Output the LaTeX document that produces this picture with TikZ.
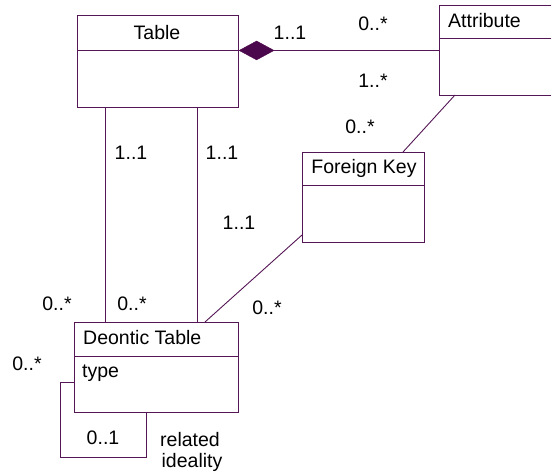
\documentclass[tikz,border=0pt]{standalone}
\usepackage{fontspec}
\setmainfont{Liberation Sans}
\usetikzlibrary{shapes.geometric}
\definecolor{umlline}{RGB}{84,22,84}
\definecolor{umlfill}{RGB}{76,8,76}
\tikzset{
  umlbox/.style={draw=umlline, line width=0.9pt, rectangle, inner sep=0pt, anchor=north west},
  conn/.style={draw=umlline, line width=0.9pt},
  lbl/.style={font=\fontsize{19.5}{22}\selectfont, inner sep=0pt, text=black},
  mult/.style={lbl},
}
\begin{document}
\begin{tikzpicture}[x=1pt,y=-1pt]
\useasboundingbox (0,0) rectangle (551,476);
% boxes
\node[umlbox, minimum width=161pt, minimum height=92pt] (table) at (77,15) {};
\node[umlbox, minimum width=114pt, minimum height=90pt] (attr) at (439,5) {};
\node[umlbox, minimum width=122pt, minimum height=90pt] (fk) at (302,152) {};
\node[umlbox, minimum width=164pt, minimum height=90pt] (deon) at (74,322) {};
% compartment dividers
\draw[conn] (table.west |- 0,50) -- (table.east |- 0,50);
\draw[conn] (attr.west |- 0,38) -- (attr.east |- 0,38);
\draw[conn] (fk.west |- 0,185) -- (fk.east |- 0,185);
\draw[conn] (deon.west |- 0,356) -- (deon.east |- 0,356);
% titles
\node[lbl] (tTable) at (157,33) {Table};
\node[lbl, anchor=west] (tAttr) at (448,21) {Attribute};
\node[lbl] (tFk) at (364,168) {Foreign Key};
\node[lbl, anchor=west] (tDeon) at (83,338) {Deontic Table};
\node[lbl, anchor=west] (tType) at (82,373) {type};
% composition diamond
\node[diamond, fill=umlfill, draw=umlfill, inner sep=0pt, minimum width=35pt, minimum height=19pt, anchor=west] (dia) at (table.east |- attr.west) {};
\draw[conn] (dia.east) -- (attr.west);
% table to deontic table
\draw[conn] (table.south -| 105,0) -- (deon.north -| 105,0);
\draw[conn] (table.south -| 197,0) -- (deon.north -| 197,0);
% attribute to foreign key
\coordinate (a1) at (455,95);
\coordinate (f1) at (403,152);
\draw[conn] (a1) -- (f1);
% foreign key to deontic
\coordinate (f2) at (302,235);
\coordinate (d1) at (205,322);
\draw[conn] (f2) -- (d1);
% self loop
\coordinate (s1) at (74,382);
\coordinate (s2) at (146,412);
\draw[conn] (s1) -- (60,382) -- (60,457) -- (146,457) -- (s2);
% multiplicities
\node[mult] (m1) at (290,33) {1..1};
\node[mult] (m2) at (373,24) {0..*};
\node[mult] (m3) at (373,81) {1..*};
\node[mult] (m4) at (360,127) {0..*};
\node[mult] (m5) at (131,153) {1..1};
\node[mult] (m6) at (222,153) {1..1};
\node[mult] (m7) at (239,223) {1..1};
\node[mult] (m8) at (57,304) {0..*};
\node[mult] (m9) at (132,304) {0..*};
\node[mult] (m10) at (267,308) {0..*};
\node[mult] (m11) at (27,364) {0..*};
\node[mult] (m12) at (103,438) {0..1};
\node[lbl] (r1) at (190,440) {related};
\node[lbl] (r2) at (192,462) {ideality};
\end{tikzpicture}
\end{document}
